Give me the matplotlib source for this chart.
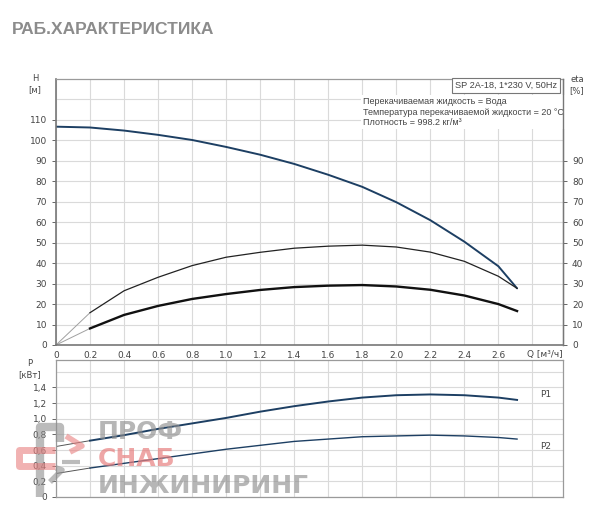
import numpy as np
import matplotlib
matplotlib.use("Agg")
import matplotlib.pyplot as plt
from matplotlib.lines import Line2D

# ---------- данные ----------
q = [0.0, 0.2, 0.4, 0.6, 0.8, 1.0, 1.2, 1.4, 1.6, 1.8, 2.0, 2.2, 2.4, 2.6, 2.71]
head = [106.7, 106.3, 104.8, 102.7, 100.2, 96.8, 93.0, 88.5, 83.2, 77.3, 69.8, 61.0, 50.5, 38.5, 27.7]
eta_total = [0.0, 15.8, 26.5, 33.1, 38.8, 42.9, 45.3, 47.3, 48.3, 48.8, 47.9, 45.4, 40.9, 33.6, 27.7]
eta_pump = [0.0, 8.1, 14.7, 19.1, 22.5, 24.9, 26.9, 28.3, 29.0, 29.3, 28.6, 27.0, 24.2, 20.0, 16.6]
p1 = [0.645, 0.72, 0.79, 0.87, 0.94, 1.01, 1.09, 1.16, 1.22, 1.27, 1.30, 1.31, 1.30, 1.27, 1.24]
p2 = [0.30, 0.37, 0.43, 0.49, 0.55, 0.61, 0.66, 0.71, 0.74, 0.77, 0.78, 0.79, 0.78, 0.76, 0.74]

q_ticks = [0, 0.2, 0.4, 0.6, 0.8, 1.0, 1.2, 1.4, 1.6, 1.8, 2.0, 2.2, 2.4, 2.6]
h_ticks = [0, 10, 20, 30, 40, 50, 60, 70, 80, 90, 100, 110]
eta_ticks = [0, 10, 20, 30, 40, 50, 60, 70, 80, 90]
p_ticks = [0, 0.2, 0.4, 0.6, 0.8, 1.0, 1.2, 1.4]

info = ["Перекачиваемая жидкость = Вода",
        "Температура перекачиваемой жидкости = 20 °C",
        "Плотность = 998.2 кг/м³"]

NAVY = "#1d3f63"
GRID = "#dadada"
TXT = "#444444"
ARIAL = "Liberation Sans"

plt.rcParams.update({"font.family": "DejaVu Sans", "font.size": 6.5})

fig = plt.figure(figsize=(6.0, 5.14), dpi=100)
W, H = 600, 514


def box(l, t, r, b):
    return [l / W, 1 - b / H, (r - l) / W, (b - t) / H]


def style(ax):
    ax.grid(True, which="both", color=GRID, lw=0.8)
    ax.set_axisbelow(True)
    ax.tick_params(colors="#666666", labelcolor=TXT, length=3, width=0.7, labelsize=6.5)
    ax.tick_params(which="minor", length=0)
    for s in ax.spines.values():
        s.set_color("#9a9a9a")
        s.set_linewidth(0.9)


# ---------- верхний график: H и eta ----------
ax = fig.add_axes(box(56, 79, 563, 345))
style(ax)
ax.set_xlim(0, 2.98)
ax.set_ylim(0, 130)
ax.set_xticks(q_ticks)
ax.set_xticklabels(["0" if t == 0 else f"{t:.1f}" for t in q_ticks])
ax.set_xticks([2.8], minor=True)
ax.set_yticks(h_ticks)
ax.set_yticks([120], minor=True)
ax.tick_params(axis="x", length=0, pad=4)
ax.spines["left"].set_color("#777777")
ax.spines["bottom"].set_color("#777777")
ax.spines["left"].set_linewidth(1.2)
ax.spines["bottom"].set_linewidth(1.2)

ax.plot(q, head, color=NAVY, lw=1.4, solid_capstyle="round")
ax.plot(q[:2], eta_total[:2], color="#a0a0a0", lw=0.7)
ax.plot(q[1:], eta_total[1:], color="#222222", lw=0.9)
ax.plot(q[:2], eta_pump[:2], color="#a0a0a0", lw=0.7)
ax.plot(q[1:], eta_pump[1:], color="#111111", lw=1.7)

ax2 = ax.twinx()
ax2.set_ylim(0, 130)
ax2.set_yticks(eta_ticks)
ax2.tick_params(colors="#666666", labelcolor=TXT, length=3, width=0.7, labelsize=6.5)
ax2.spines["right"].set_color("#777777")
ax2.spines["right"].set_linewidth(1.0)
for s in ("left", "top", "bottom"):
    ax2.spines[s].set_visible(False)

fig.text(35 / W, 1 - 84 / H, "H\n[м]", ha="center", va="center", fontsize=6, color=TXT, linespacing=1.3)
fig.text(577 / W, 1 - 85 / H, "eta\n[%]", ha="center", va="center", fontsize=6, color=TXT, linespacing=1.3)
fig.text(545 / W, 1 - 354 / H, "Q [м³/ч]", ha="center", va="center", fontsize=6.5, color=TXT)

ax.text(0.988, 0.993, "SP 2A-18, 1*230 V, 50Hz", transform=ax.transAxes, ha="right", va="top",
        fontsize=6.6, color=TXT, family=ARIAL,
        bbox=dict(boxstyle="square,pad=0.3", fc="white", ec="#777777", lw=0.8))
ax.text(0.605, 0.933, "\n".join(info), transform=ax.transAxes, ha="left", va="top",
        fontsize=6.5, color=TXT, linespacing=1.25, family=ARIAL,
        bbox=dict(boxstyle="square,pad=0.2", fc="white", ec="none"))

# ---------- нижний график: P1, P2 ----------
bx = fig.add_axes(box(56, 360, 563, 497))
style(bx)
bx.set_xlim(0, 2.98)
bx.set_ylim(0, 1.75)
bx.set_xticks(q_ticks + [2.8])
bx.tick_params(axis="x", length=0, labelbottom=False)
bx.set_yticks(p_ticks)
bx.set_yticklabels(["0" if t == 0 else f"{t:.1f}".replace(".", ",") for t in p_ticks])
bx.set_yticks([1.6], minor=True)
bx.plot(q[:2], p1[:2], color="#555555", lw=0.7)
bx.plot(q[1:], p1[1:], color=NAVY, lw=1.4)
bx.plot(q[:2], p2[:2], color="#555555", lw=0.7)
bx.plot(q[1:], p2[1:], color=NAVY, lw=1.0)
bx.text(2.88, 1.31, "P1", ha="center", va="center", fontsize=6.5, color=TXT)
bx.text(2.88, 0.65, "P2", ha="center", va="center", fontsize=6.5, color=TXT)
fig.text(30 / W, 1 - 369 / H, "P\n[кВт]", ha="center", va="center", fontsize=6, color=TXT, linespacing=1.3)

# ---------- заголовок ----------
fig.text(12 / W, 1 - 30 / H, "РАБ.ХАРАКТЕРИСТИКА", ha="left", va="center",
         fontsize=12.5, fontweight="bold", color="#8c8c8c", family=ARIAL)

# ---------- водяной знак (логотип поверх картинки) ----------
fig.text(98 / W, 1 - 432 / H, "ПРОФ", fontsize=18, color="#8f8f8f", alpha=0.65,
         ha="left", va="center", fontweight="bold")
fig.text(98 / W, 1 - 459 / H, "СНАБ", fontsize=18, color="#e88080", alpha=0.7,
         ha="left", va="center", fontweight="bold")
fig.text(98 / W, 1 - 486 / H, "ИНЖИНИРИНГ", fontsize=18, color="#8f8f8f", alpha=0.65,
         ha="left", va="center", fontweight="bold")


def mark(xs, ys, color, lw):
    fig.add_artist(Line2D([x / W for x in xs], [1 - y / H for y in ys], color=color,
                          lw=lw, alpha=0.6, solid_capstyle="butt", solid_joinstyle="round"))


mark([40, 40, 60, 60], [497, 427, 427, 442], "#8f8f8f", 6)
mark([55, 19, 19, 55], [450, 450, 466, 466], "#e88080", 5)
mark([66, 82, 70], [436, 446, 452], "#e88080", 4)
mark([62, 80], [462, 462], "#8f8f8f", 3)
mark([50, 62, 56], [482, 470, 468], "#8f8f8f", 4)

fig.savefig("out.png", dpi=100, facecolor="white")
